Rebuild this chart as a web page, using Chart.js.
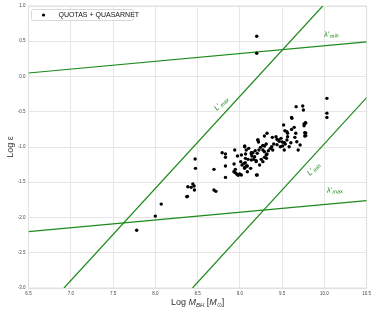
<!DOCTYPE html>
<html>
<head>
<meta charset="utf-8">
<script src="https://cdn.jsdelivr.net/npm/chart.js@4"></script>
<style>
  html, body { margin: 0; padding: 0; background: #fff; }
  #wrap { width: 374px; height: 312px; }
</style>
</head>
<body>
<div id="wrap"><canvas id="epsChart"></canvas></div>
<script>
// QUOTAS + QUASARNET sample: log black hole mass vs log epsilon
const logM = [
  7.78, 8.00, 8.07, 8.38,
  8.373, 8.385, 8.424, 8.444, 8.459, 8.463, 8.471, 8.475,
  8.694, 8.694, 8.717, 8.791, 8.830, 8.830, 8.830, 8.830,
  8.940, 8.932, 8.947, 8.947, 8.963, 8.998, 9.018,
  9.057, 9.076, 9.068, 9.065, 9.080, 9.057,
  9.135, 9.143, 9.166, 9.182, 9.193, 9.197, 9.213, 9.221,
  9.272, 9.291, 9.322, 9.315, 9.338, 9.362, 9.377, 9.389, 9.401,
  9.291, 9.322, 9.385, 9.428, 9.440, 9.455, 9.467, 9.487, 9.502,
  9.526, 9.537, 9.557, 9.565, 9.557, 9.533, 9.518, 9.565, 9.584,
  9.604, 9.612, 9.643, 9.662, 9.651, 9.674, 9.690, 9.713,
  9.612, 9.666, 9.744, 9.752, 9.760, 9.776, 9.768, 9.768,
  9.440, 9.506, 9.526, 9.479,
  8.972, 9.011, 9.026, 9.019, 9.058, 9.105, 9.066, 9.097, 9.050,
  9.058, 9.089, 9.136, 9.155, 9.136, 9.175, 9.194, 9.206, 9.226,
  9.214, 9.245, 9.273, 9.292, 9.312, 9.292, 9.312, 9.253, 9.206,
  9.234, 9.273, 9.089, 9.128, 8.93, 8.98,
  9.20, 9.20, 10.03, 10.03, 10.03, 9.616, 9.78, 9.76, 9.78, 9.78
];
const logEps = [
  -2.18, -1.98, -1.81, -1.70,
  -1.705, -1.563, -1.572, -1.525, -1.553, -1.610, -1.171, -1.303,
  -1.317, -1.610, -1.629, -1.081, -1.100, -1.147, -1.270, -1.431,
  -1.043, -1.241, -1.317, -1.364, -1.383, -1.383, -1.397,
  -0.996, -1.043, -1.100, -1.223, -1.270, -1.303,
  -1.081, -1.128, -1.175, -1.052, -1.208, -1.397, -0.901, -0.929,
  -0.977, -1.066, -1.100, -1.161, -1.052, -1.019, -0.996, -1.043, -0.958,
  -0.844, -0.806, -0.863, -0.854, -0.892, -0.901, -0.920, -0.877, -0.929,
  -0.939, -0.958, -0.901, -0.854, -0.783, -0.769, -0.688, -0.806, -0.996,
  -0.939, -0.750, -0.721, -0.806, -0.863, -0.925, -1.043, -0.972,
  -0.580, -0.428, -0.419, -0.476, -0.674, -0.655, -0.797, -0.844,
  -0.967, -0.986, -1.043, -0.996,
  -1.128, -1.208, -1.255, -1.113, -0.986, -1.019, -1.161, -1.175, -1.232,
  -1.288, -1.270, -1.099, -1.080, -1.184, -1.137, -1.194, -1.090, -1.043,
  -0.901, -1.005, -1.043, -0.986, -0.957, -1.147, -1.113, -1.175, -1.397,
  -1.255, -1.208, -1.350, -1.303, -1.35, -1.40,
  0.57, 0.33, -0.31, -0.52, -0.58, -0.593, -0.66, -0.70, -0.80, -0.84
];

// limit lines: [x0, x1], [y0, y1]
const lambdaMinX = [6.5, 10.5],  lambdaMinY = [0.05, 0.49];
const lambdaMaxX = [6.5, 10.5],  lambdaMaxY = [-2.2, -1.76];
const lMaxX = [6.92, 9.98],      lMaxY = [-3.0, 1.0];
const lMinX = [8.44, 10.5],      lMinY = [-3.0, -0.3];

// line labels: main symbol, subscript, anchor x, anchor y, angle (deg)
const lineLabels = [
  { main: "λ'", sub: "min", x: 10.0, y: 0.56, angle: -5 },
  { main: "λ'", sub: "max", x: 10.03, y: -1.65, angle: -5 },
  { main: "L'", sub: "max", x: 8.73, y: -0.49, angle: -47 },
  { main: "L'", sub: "min", x: 9.83, y: -1.41, angle: -47 }
];

const xTicks = [6.5, 7.0, 7.5, 8.0, 8.5, 9.0, 9.5, 10.0, 10.5];
const yTicks = [1.0, 0.5, 0.0, -0.5, -1.0, -1.5, -2.0, -2.5, -3.0];

const green = '#1b8a1b';
const fontFam = '"Liberation Sans", Arial, sans-serif';

function seg(xs, ys) {
  return xs.map((x, i) => ({ x: x, y: ys[i] }));
}

const extras = {
  id: 'extras',
  beforeDatasetsDraw(chart) {
    // full frame around the plot area
    const a = chart.chartArea, ctx = chart.ctx;
    ctx.save();
    ctx.strokeStyle = '#e0e0e0';
    ctx.lineWidth = 1;
    ctx.strokeRect(a.left, a.top, a.right - a.left, a.bottom - a.top);
    ctx.restore();
  },
  afterDatasetsDraw(chart) {
    const ctx = chart.ctx;
    const xs = chart.scales.x, ys = chart.scales.y;
    ctx.save();
    // line labels
    lineLabels.forEach(l => {
      ctx.save();
      ctx.translate(xs.getPixelForValue(l.x), ys.getPixelForValue(l.y));
      ctx.rotate(l.angle * Math.PI / 180);
      ctx.fillStyle = green;
      ctx.textBaseline = 'alphabetic';
      ctx.textAlign = 'left';
      ctx.font = 'italic 7.5px ' + fontFam;
      ctx.fillText(l.main, 0, 0);
      const w = ctx.measureText(l.main).width;
      ctx.font = 'italic 5.5px ' + fontFam;
      ctx.fillText(l.sub, w + 0.5, 1.5);
      ctx.restore();
    });

    // legend box
    const bx = 31.5, by = 9.5, bw = 102, bh = 11;
    ctx.fillStyle = 'rgba(255,255,255,0.85)';
    ctx.strokeStyle = '#d8d8d8';
    ctx.lineWidth = 1;
    ctx.beginPath();
    ctx.roundRect(bx, by, bw, bh, 2);
    ctx.fill();
    ctx.stroke();
    ctx.fillStyle = '#000';
    ctx.beginPath();
    ctx.arc(43.5, 15, 1.6, 0, Math.PI * 2);
    ctx.fill();
    ctx.font = '7px ' + fontFam;
    ctx.textBaseline = 'middle';
    ctx.fillStyle = '#111';
    ctx.fillText('QUOTAS + QUASARNET', 58.5, 15.3);

    // x axis title with subscripts
    const parts = [
      { t: 'Log ', f: '9px ', dy: 0 },
      { t: 'M', f: 'italic 9px ', dy: 0 },
      { t: 'BH', f: 'italic 6px ', dy: 2 },
      { t: ' [', f: '9px ', dy: 0 },
      { t: 'M', f: 'italic 9px ', dy: 0 },
      { t: '⊙', f: '6px ', dy: 2 },
      { t: ']', f: '9px ', dy: 0 }
    ];
    let total = 0;
    parts.forEach(p => { ctx.font = p.f + fontFam; p.w = ctx.measureText(p.t).width; total += p.w; });
    let cx = (chart.chartArea.left + chart.chartArea.right) / 2 - total / 2;
    ctx.fillStyle = '#333';
    ctx.textBaseline = 'alphabetic';
    parts.forEach(p => {
      ctx.font = p.f + fontFam;
      ctx.fillText(p.t, cx, 305 + p.dy);
      cx += p.w;
    });
    ctx.restore();
  }
};

new Chart(document.getElementById('epsChart'), {
  type: 'scatter',
  data: {
    datasets: [
      {
        label: 'QUOTAS + QUASARNET',
        data: logM.map((x, i) => ({ x: x, y: logEps[i] })),
        backgroundColor: '#000',
        borderColor: '#000',
        pointRadius: 1.7,
        pointBorderWidth: 0,
        order: 1
      },
      { data: seg(lambdaMinX, lambdaMinY) },
      { data: seg(lambdaMaxX, lambdaMaxY) },
      { data: seg(lMaxX, lMaxY) },
      { data: seg(lMinX, lMinY) }
    ].map((d, i) => i === 0 ? d : Object.assign(d, {
      showLine: true,
      borderColor: green,
      borderWidth: 1.2,
      pointRadius: 0,
      fill: false,
      order: 2
    }))
  },
  options: {
    responsive: true,
    maintainAspectRatio: false,
    animation: false,
    layout: { padding: { top: 6, right: 4.5, left: 0, bottom: 0 } },
    plugins: {
      legend: { display: false },
      tooltip: { enabled: false }
    },
    scales: {
      x: {
        type: 'linear',
        min: 6.5,
        max: 10.5,
        afterBuildTicks: s => { s.ticks = xTicks.map(v => ({ value: v })); },
        afterFit: s => { s.height = 24; },
        ticks: {
          font: { size: 4.5, family: fontFam },
          color: '#444',
          padding: 3,
          maxRotation: 0,
          callback: v => v.toFixed(1)
        },
        grid: { color: '#e6e6e6', lineWidth: 1, drawTicks: false },
        border: { color: '#e0e0e0' }
      },
      y: {
        type: 'linear',
        min: -3,
        max: 1,
        afterBuildTicks: s => { s.ticks = yTicks.map(v => ({ value: v })); },
        afterFit: s => { s.width = 28.5; },
        ticks: {
          font: { size: 4.5, family: fontFam },
          color: '#444',
          padding: 3,
          callback: v => v.toFixed(1)
        },
        title: {
          display: true,
          text: 'Log ε',
          font: { size: 9, family: fontFam },
          color: '#333',
          padding: { top: 5, bottom: 0 }
        },
        grid: { color: '#e6e6e6', lineWidth: 1, drawTicks: false },
        border: { color: '#e0e0e0' }
      }
    }
  },
  plugins: [extras]
});
</script>
</body>
</html>
